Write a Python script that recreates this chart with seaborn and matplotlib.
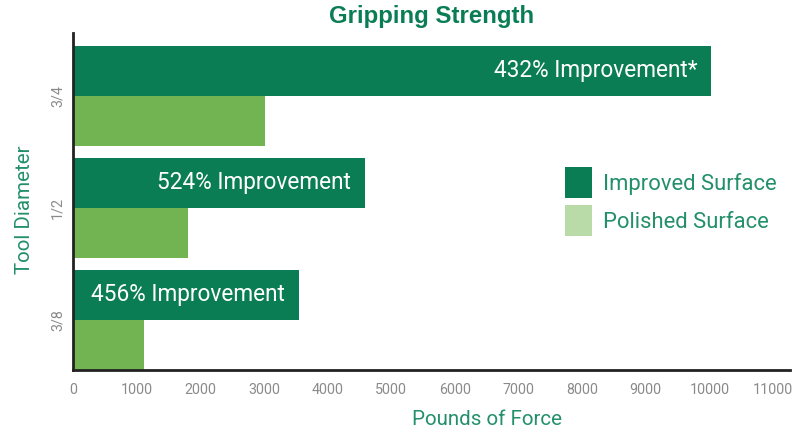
import matplotlib
matplotlib.use("Agg")
import matplotlib.pyplot as plt
import pandas as pd
import seaborn as sns

# Gripping strength by tool diameter (pounds of force)
diameters = ["3/4", "1/2", "3/8"]
improved = [10030, 4590, 3550]
polished = [3020, 1810, 1120]
improvement_labels = ["432% Improvement*", "524% Improvement", "456% Improvement"]
series_names = ["Improved Surface", "Polished Surface"]
x_ticks = [0, 1000, 2000, 3000, 4000, 5000, 6000, 7000, 8000, 9000, 10000, 11000]

DARK = "#0a7d55"
LIGHT = "#72b352"
LEGEND_LIGHT = "#b9dba8"
TEXT_GREEN = "#23906a"
TICK_GRAY = "#8a8a8a"

df = pd.DataFrame({
    "diameter": diameters * 2,
    "surface": [series_names[0]] * 3 + [series_names[1]] * 3,
    "force": improved + polished,
})

sns.set_theme(style="white")
plt.rcParams["font.family"] = ["Roboto", "DejaVu Sans"]

fig = plt.figure(figsize=(8.08, 4.32), dpi=100)
ax = fig.add_axes([73 / 808, 1 - 370 / 432, 717 / 808, 337 / 432])

sns.barplot(
    data=df, y="diameter", x="force", hue="surface", orient="h",
    order=diameters, hue_order=series_names, palette=[DARK, LIGHT],
    width=0.893, saturation=1, errorbar=None, ax=ax, legend=True,
    linewidth=0,
)

ax.set_xlim(0, 11267)
ax.set_ylim(2.4465, -0.5625)
ax.set_xticks(x_ticks)
ax.set_xticklabels([str(t) for t in x_ticks])

for side in ("top", "right"):
    ax.spines[side].set_visible(False)
for side in ("left", "bottom"):
    ax.spines[side].set_color("#222222")
    ax.spines[side].set_linewidth(2.0)

ax.tick_params(axis="x", length=0, pad=9, labelsize=10.3, labelcolor=TICK_GRAY)
ax.tick_params(axis="y", length=0, pad=6, labelsize=10.3, labelcolor=TICK_GRAY)
for lbl in ax.get_yticklabels():
    lbl.set_rotation(90)
    lbl.set_va("center")

ax.set_xlabel("Pounds of Force", fontsize=14.8, color=TEXT_GREEN)
ax.set_ylabel("Tool Diameter", fontsize=14.8, color=TEXT_GREEN)
ax.xaxis.set_label_coords(0.577, -0.12)
ax.yaxis.set_label_coords(-0.055, 0.475)

ax.set_title("Gripping Strength", fontsize=17.3, fontweight="bold",
             color=DARK, family=["Liberation Sans", "DejaVu Sans"], pad=7)

# Improvement labels inside the improved-surface bars
for bar, text in zip(ax.containers[0], improvement_labels):
    ax.annotate(
        text,
        xy=(bar.get_width(), bar.get_y() + bar.get_height() / 2),
        xytext=(-10, 0), textcoords="offset points",
        ha="right", va="center", color="white", fontsize=16.3,
    )

handles, labels = ax.get_legend_handles_labels()
leg = ax.legend(
    handles, labels, loc="upper left",
    bbox_to_anchor=(565 / 808, 1 - 167 / 432), bbox_transform=fig.transFigure,
    frameon=False, borderpad=0, borderaxespad=0,
    handlelength=1.23, handleheight=1.8, handletextpad=0.5, labelspacing=0.32,
    prop={"size": 15.8},
)
leg.legend_handles[1].set_facecolor(LEGEND_LIGHT)
for t in leg.get_texts():
    t.set_color(TEXT_GREEN)

fig.savefig("out.png", dpi=100)
